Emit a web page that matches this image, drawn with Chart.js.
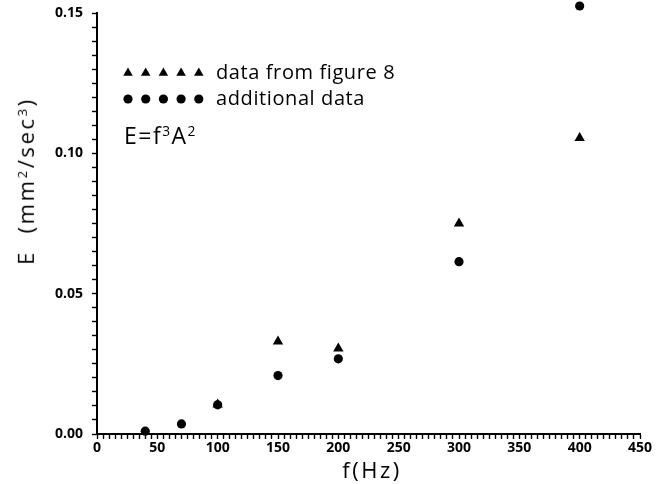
<!DOCTYPE html>
<html>
<head>
<meta charset="utf-8">
<script src="https://cdn.jsdelivr.net/npm/chart.js@4/dist/chart.umd.min.js"></script>
<style>
    body { margin: 0; background: #fff; }
    #wrap { position: relative; width: 668px; height: 484px; font-family: "Open Sans", sans-serif; color: #000; }
    .txt { position: absolute; white-space: nowrap; line-height: 1; }
    .leg { font-size: 20px; letter-spacing: 0.6px; }
    .formula { font-size: 23px; letter-spacing: 1.5px; }
    sup { font-size: 0.6em; vertical-align: 0; position: relative; top: -0.55em; }
    #ytitle { left: 25px; top: 181px; font-size: 22px; letter-spacing: 2.6px; transform: translate(-50%, -50%) rotate(-90deg); }
    #xtitle { left: 372px; top: 469px; font-size: 22px; letter-spacing: 2.5px; transform: translate(-50%, -50%); }
</style>
</head>
<body>
<div id="wrap">
    <canvas id="chart" width="668" height="484"></canvas>
    <div class="txt leg" style="left:216px; top:62px">data from figure 8</div>
    <div class="txt leg" style="left:216px; top:88px">additional data</div>
    <div class="txt formula" style="left:124px; top:124px">E=f<sup>3</sup>A<sup>2</sup></div>
    <div class="txt" id="ytitle">E &nbsp;(mm<sup>2</sup>/sec<sup>3</sup>)</div>
    <div class="txt" id="xtitle">f(Hz)</div>
</div>
<script>
// ── Data ─────────────────────────────────────────────────────────────────────
const figFreq   = [100, 150, 200, 300, 400];
const figEnergy = [0.0105, 0.033, 0.0305, 0.075, 0.1055];

const addFreq   = [40, 70, 100, 150, 200, 300, 400];
const addEnergy = [0.001, 0.0036, 0.0104, 0.0208, 0.0268, 0.0614, 0.1525];

const xMajor = [0, 50, 100, 150, 200, 250, 300, 350, 400, 450];
const yMajor = [0.00, 0.05, 0.10, 0.15];

const toPoints = (xs, ys) => xs.map((x, i) => ({ x, y: ys[i] }));
const isMajor = (v, list) => list.some(m => Math.abs(m - v) < 1e-9);

const tickFont = { family: 'Open Sans', size: 14, weight: 'bold' };

// the 400 Hz point sits just above the top of the axis: let it be drawn there
const overflowTop = {
    id: 'overflowTop',
    beforeDatasetsDraw(chart) { chart.chartArea.top -= 20; },
    afterDatasetsDraw(chart)  { chart.chartArea.top += 20; },
};

// marker rows of the legend, same shapes as the data points
const legendMarks = {
    id: 'legendMarks',
    afterDraw(chart) {
        const ctx = chart.ctx;
        const rows = [
            { style: 'triangle', radius: 5.5, y: 73 },
            { style: 'circle',   radius: 4.6, y: 99 },
        ];
        ctx.save();
        ctx.fillStyle = '#000';
        ctx.strokeStyle = '#000';
        rows.forEach(r => {
            for (let i = 0; i < 5; i++) {
                Chart.helpers.drawPoint(ctx, { pointStyle: r.style, radius: r.radius, borderWidth: 0, rotation: 0 },
                    128 + i * 17.7, r.y);
            }
        });
        ctx.restore();
    },
};

new Chart(document.getElementById('chart'), {
    type: 'scatter',
    data: {
        datasets: [
            {
                label: 'data from figure 8',
                data: toPoints(figFreq, figEnergy),
                pointStyle: 'triangle',
                pointRadius: 6,
                backgroundColor: '#000',
                borderColor: '#000',
                borderWidth: 0,
                clip: false,
            },
            {
                label: 'additional data',
                data: toPoints(addFreq, addEnergy),
                pointStyle: 'circle',
                pointRadius: 4.6,
                backgroundColor: '#000',
                borderColor: '#000',
                borderWidth: 0,
                clip: false,
            },
        ],
    },
    options: {
        responsive: false,
        animation: false,
        layout: { padding: { top: 13, right: 28, left: 6, bottom: 0 } },
        plugins: {
            legend:  { display: false },
            tooltip: { enabled: false },
        },
        scales: {
            x: {
                type: 'linear',
                min: 0,
                max: 450,
                afterFit: s => { s.height = 50; s.paddingLeft = 0; s.paddingRight = 0; },
                border: { display: true, color: '#000', width: 2 },
                grid: { drawOnChartArea: false, color: '#000', tickLength: 5, tickWidth: 1.4 },
                ticks: {
                    stepSize: 5,
                    autoSkip: false,
                    maxRotation: 0,
                    maxTicksLimit: 200,
                    color: '#000',
                    font: tickFont,
                    padding: 1,
                    callback: v => isMajor(v, xMajor) ? String(v) : '',
                },
            },
            y: {
                type: 'linear',
                min: 0,
                max: 0.15,
                afterFit: s => { s.width = 91; s.paddingTop = 0; s.paddingBottom = 0; },
                border: { display: true, color: '#000', width: 2 },
                grid: { drawOnChartArea: false, color: '#000', tickLength: 5, tickWidth: 1.4 },
                ticks: {
                    stepSize: 0.005,
                    autoSkip: false,
                    maxTicksLimit: 200,
                    color: '#000',
                    font: tickFont,
                    padding: 9,
                    callback: v => isMajor(v, yMajor) ? v.toFixed(2) : '',
                },
            },
        },
    },
    plugins: [overflowTop, legendMarks],
});
</script>
</body>
</html>
